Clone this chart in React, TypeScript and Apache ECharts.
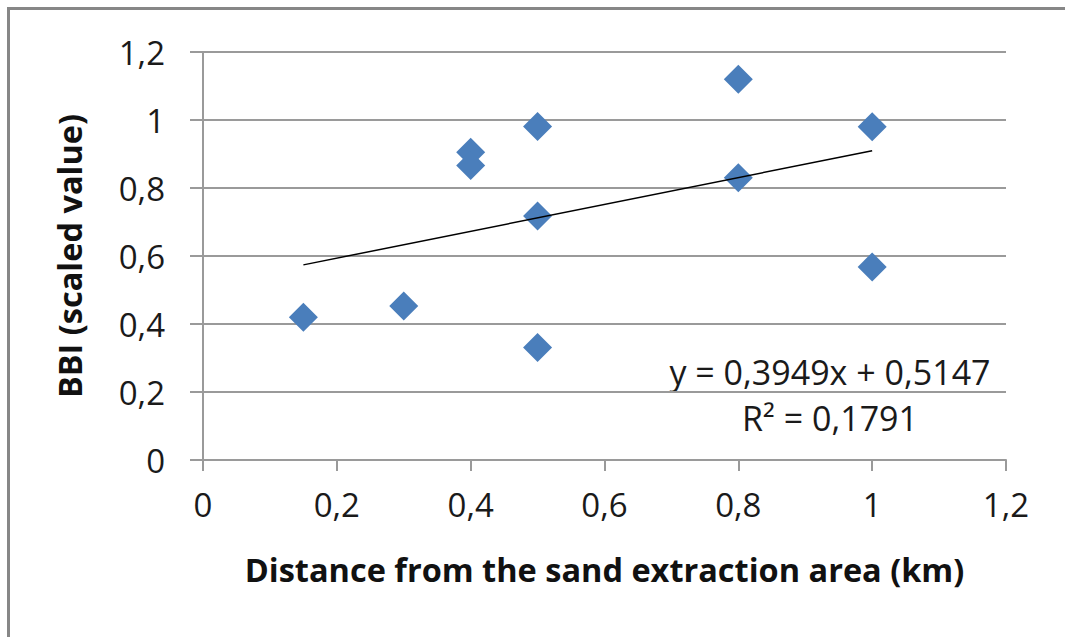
import React, { useEffect, useRef } from "react";
import * as echarts from "echarts";

const xValues = [0.15, 0.3, 0.4, 0.4, 0.5, 0.5, 0.5, 0.8, 0.8, 1.0, 1.0];
const yValues = [0.42, 0.453, 0.905, 0.866, 0.981, 0.718, 0.331, 1.12, 0.83, 0.98, 0.568];
const slope = 0.3949;
const intercept = 0.5147;
const rSquared = "0,1791";
const equationLabel = "y = 0,3949x + 0,5147";
const xAxisTitle = "Distance from the sand extraction area (km)";
const yAxisTitle = "BBI (scaled value)";

const fmt = (v: number) => String(+v.toFixed(1)).replace(".", ",");

export default function App() {
  const ref = useRef<HTMLDivElement>(null);
  useEffect(() => {
    if (!ref.current) return;
    const chart = echarts.init(ref.current, undefined, { renderer: "svg" });
    const pts = xValues.map((x, i) => [x, yValues[i]]);
    const xMin = Math.min(...xValues);
    const xMax = Math.max(...xValues);
    const trend = [
      [xMin, slope * xMin + intercept],
      [xMax, slope * xMax + intercept],
    ];
    const font = "'Open Sans', sans-serif";
    const gray = "#9a9a9a";
    chart.setOption({
      animation: false,
      grid: { left: 203, right: 59, top: 52, bottom: 177 },
      xAxis: {
        type: "value",
        min: 0,
        max: 1.2,
        interval: 0.2,
        name: xAxisTitle,
        nameLocation: "middle",
        nameGap: 93,
        nameTextStyle: { fontFamily: font, fontWeight: "bold", fontSize: 32.5, color: "#111" },
        axisLine: { show: true, onZero: false, lineStyle: { color: gray, width: 2 } },
        axisTick: { show: true, inside: false, length: 11, lineStyle: { color: gray, width: 2 } },
        splitLine: { show: false },
        axisLabel: { formatter: fmt, fontFamily: font, fontSize: 33, color: "#1a1a1a", margin: 28 },
      },
      yAxis: {
        type: "value",
        min: 0,
        max: 1.2,
        interval: 0.2,
        name: yAxisTitle,
        nameLocation: "middle",
        nameGap: 117,
        nameRotate: 90,
        nameTextStyle: { fontFamily: font, fontWeight: "bold", fontSize: 32.5, color: "#111" },
        axisLine: { show: true, lineStyle: { color: gray, width: 2 } },
        axisTick: { show: true, inside: false, length: 13, lineStyle: { color: gray, width: 2 } },
        splitLine: { show: true, lineStyle: { color: gray, width: 2 } },
        axisLabel: { formatter: fmt, fontFamily: font, fontSize: 33, color: "#1a1a1a", margin: 38 },
      },
      series: [
        {
          type: "line",
          data: trend,
          symbol: "none",
          lineStyle: { color: "#000", width: 1.5 },
          z: 3,
        },
        {
          type: "scatter",
          data: pts,
          symbol: "diamond",
          symbolSize: 29,
          itemStyle: { color: "#4a7ebb", opacity: 1 },
          z: 2,
        },
      ],
      graphic: [
        {
          type: "text",
          x: 830,
          y: 372,
          style: {
            text: equationLabel,
            font: `34px ${font}`,
            fill: "#1a1a1a",
            align: "center",
            verticalAlign: "middle",
          },
        },
        {
          type: "text",
          x: 830,
          y: 418,
          style: {
            text: `R² = ${rSquared}`,
            font: `34px ${font}`,
            fill: "#1a1a1a",
            align: "center",
            verticalAlign: "middle",
          },
        },
      ],
    });
    return () => chart.dispose();
  }, []);
  return (
    <div style={{ position: "fixed", left: 0, top: 0, width: 1065, height: 637, overflow: "hidden", background: "#fff" }}>
      <div ref={ref} style={{ position: "absolute", left: 0, top: 0, width: 1065, height: 637 }} />
      <div
        style={{
          position: "absolute",
          left: 7,
          top: 7,
          width: 1100,
          height: 700,
          borderTop: "3px solid #878787",
          borderLeft: "3px solid #878787",
          pointerEvents: "none",
        }}
      />
    </div>
  );
}
